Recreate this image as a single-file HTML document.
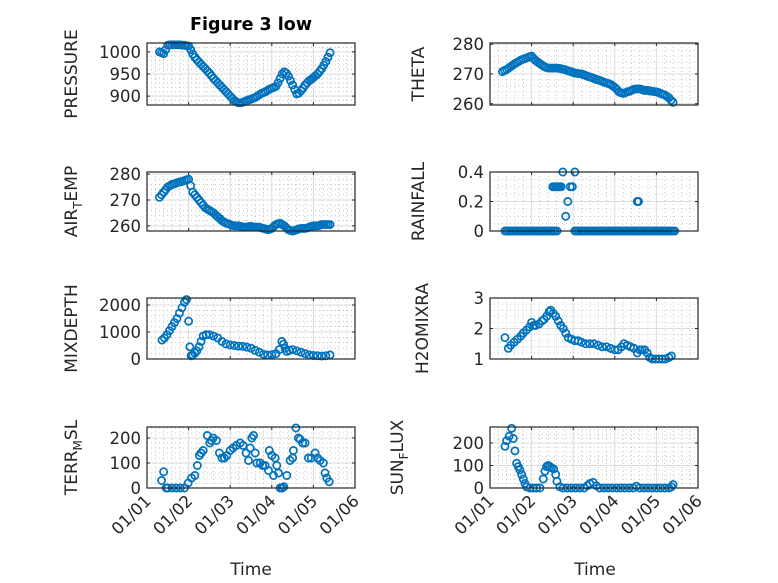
<!DOCTYPE html>
<html><head><meta charset="utf-8"><style>
html,body{margin:0;padding:0;background:#fff;}
svg{display:block;font-family:"DejaVu Sans","Liberation Sans",sans-serif;}
</style></head><body>
<svg id="fig" width="778" height="583" viewBox="0 0 778 583" xmlns="http://www.w3.org/2000/svg">
<rect width="778" height="583" fill="#fff"/>
<text x="251" y="30" text-anchor="middle" font-size="17.5" font-weight="bold" fill="#000">Figure 3 low</text>
<text x="251" y="575" text-anchor="middle" font-size="17" fill="#262626">Time</text>
<text x="595" y="575" text-anchor="middle" font-size="17" fill="#262626">Time</text>
</svg>
<script>
const TD = [0.30,0.35,0.40,0.45,0.50,0.55,0.60,0.65,0.70,0.75,0.80,0.85,0.90,0.95,1.00,1.05,1.10,1.15,1.20,1.25,1.30,1.35,1.40,1.45,1.50,1.55,1.60,1.65,1.70,1.75,1.80,1.85,1.90,1.95,2.00,2.05,2.10,2.15,2.20,2.25,2.30,2.35,2.40,2.45,2.50,2.55,2.60,2.65,2.70,2.75,2.80,2.85,2.90,2.95,3.00,3.05,3.10,3.15,3.20,3.25,3.30,3.35,3.40,3.45,3.50,3.55,3.60,3.65,3.70,3.75,3.80,3.85,3.90,3.95,4.00,4.05,4.10,4.15,4.20,4.25,4.30,4.35,4.40];
const pressureV = [1000,998,996,1005,1015,1016,1016,1016,1016,1016,1016,1015,1015,1014,1013,1005,995,988,982,977,972,967,962,957,952,946,940,935,930,925,920,915,910,905,900,895,890,887,885,885,886,888,890,892,893,895,897,900,903,906,908,910,913,916,918,920,922,930,940,950,955,952,945,935,925,915,905,907,912,918,925,930,935,938,942,946,950,956,962,970,978,988,998];
const airTempV = [271,272,273,274,275,275.5,276,276.2,276.5,276.8,277,277.2,277.5,277.8,278,275.5,273,272,271,270,269,268,267,266.5,266,265.5,265,264.2,263.5,262.8,262,261.5,261,260.8,260.5,260.2,260,260,260,259.8,259.5,259.5,259.5,259.7,259.8,259.6,259.5,259.5,259.5,259.2,259,258.8,258.5,258.7,259,259.8,260.5,260.8,261,260.5,260,259.2,258.5,258.2,258,258.2,258.5,258.8,259,259,259,259.2,259.5,259.8,260,260,260,260.2,260.5,260.5,260.5,260.5,260.5];
const thetaV = [270.8,271.2,271.5,272,272.5,273,273.5,273.9,274.3,274.7,275,275.2,275.5,275.8,276,275.2,274.5,274,273.5,273,272.5,272.2,272,272,272,272,272,271.9,271.8,271.6,271.5,271.2,271,270.8,270.5,270.3,270.2,270.1,270,269.8,269.5,269.2,269,268.8,268.5,268.2,268,267.8,267.5,267.2,267,266.8,266.5,266,265.5,264.8,264,263.7,263.5,263.7,264,264.2,264.5,264.8,265,265,265,264.8,264.5,264.5,264.5,264.3,264.2,264.1,264,263.8,263.5,263.2,263,262.5,262,261.2,260.5];
const rainT = [0.36,0.41,0.46,0.51,0.56,0.61,0.66,0.71,0.76,0.81,0.86,0.91,0.96,1.01,1.06,1.11,1.16,1.21,1.26,1.31,1.36,1.41,1.46,1.51,1.56,1.61,1.51,1.55,1.59,1.63,1.67,1.71,1.75,2.04,1.82,1.87,1.93,1.98,2.04,2.09,2.14,2.19,2.24,2.29,2.34,2.39,2.44,2.49,2.54,2.59,2.64,2.69,2.74,2.79,2.84,2.89,2.94,2.99,3.04,3.09,3.14,3.19,3.24,3.29,3.34,3.39,3.44,3.49,3.54,3.59,3.64,3.69,3.74,3.79,3.84,3.89,3.94,3.99,4.04,4.09,4.14,4.19,4.24,4.29,4.34,4.39,4.44,3.54,3.57];
const rainV = [0,0,0,0,0,0,0,0,0,0,0,0,0,0,0,0,0,0,0,0,0,0,0,0,0,0,0.3,0.3,0.3,0.3,0.3,0.3,0.4,0.4,0.1,0.2,0.3,0.3,0,0,0,0,0,0,0,0,0,0,0,0,0,0,0,0,0,0,0,0,0,0,0,0,0,0,0,0,0,0,0,0,0,0,0,0,0,0,0,0,0,0,0,0,0,0,0,0,0,0.2,0.2];
const mixT = [0.36,0.42,0.48,0.54,0.6,0.66,0.72,0.78,0.84,0.9,0.95,1.0,1.03,1.06,1.1,1.15,1.2,1.25,1.3,1.35,1.42,1.5,1.6,1.7,1.8,1.9,2.0,2.1,2.2,2.3,2.4,2.5,2.6,2.7,2.8,2.9,3.0,3.1,3.18,3.24,3.28,3.32,3.36,3.42,3.5,3.6,3.7,3.8,3.9,4.0,4.1,4.2,4.3,4.4];
const mixV = [700,780,900,1050,1200,1350,1500,1700,1900,2100,2200,1400,450,120,150,220,300,450,650,850,900,900,850,780,650,560,520,500,480,470,440,400,320,250,180,150,160,200,350,650,550,400,280,320,350,300,250,200,150,130,120,110,120,150];
const h2oT = [0.36,0.44,0.5,0.58,0.66,0.74,0.8,0.88,0.95,1.0,1.05,1.1,1.18,1.25,1.3,1.36,1.42,1.46,1.52,1.58,1.64,1.7,1.76,1.82,1.88,1.96,2.04,2.12,2.2,2.3,2.4,2.5,2.6,2.7,2.8,2.9,3.0,3.08,3.16,3.22,3.3,3.38,3.46,3.54,3.6,3.66,3.72,3.78,3.84,3.9,3.98,4.06,4.14,4.22,4.3,4.36];
const h2oV = [1.7,1.35,1.45,1.55,1.65,1.75,1.85,1.95,2.05,2.2,2.1,2.1,2.15,2.25,2.3,2.4,2.55,2.6,2.5,2.4,2.25,2.1,2.0,1.85,1.7,1.65,1.6,1.6,1.55,1.5,1.5,1.5,1.45,1.4,1.4,1.35,1.3,1.3,1.4,1.5,1.45,1.4,1.35,1.2,1.3,1.3,1.3,1.2,1.05,1.0,1.0,1.0,1.0,1.0,1.05,1.1];
const terrT = [0.35,0.4,0.46,0.5,0.6,0.7,0.8,0.9,0.99,1.07,1.15,1.21,1.26,1.3,1.35,1.45,1.51,1.55,1.59,1.67,1.74,1.8,1.86,1.92,2.0,2.07,2.15,2.24,2.31,2.38,2.44,2.48,2.52,2.56,2.6,2.64,2.72,2.78,2.84,2.92,2.94,3.0,3.04,3.08,3.12,3.16,3.2,3.25,3.29,3.36,3.44,3.5,3.52,3.58,3.64,3.68,3.74,3.8,3.88,3.95,4.04,4.1,4.16,4.24,4.28,4.32,4.38];
const terrV = [30,65,0,0,0,0,0,0,20,40,50,90,130,140,150,210,180,190,200,190,140,120,120,130,150,160,170,180,170,140,110,160,200,210,140,100,100,90,90,70,150,130,50,120,90,60,0,0,5,50,110,120,150,240,200,195,180,180,120,120,140,120,110,100,60,40,25];
const sunT = [0.36,0.4,0.46,0.52,0.56,0.6,0.64,0.68,0.72,0.76,0.8,0.84,0.88,0.96,1.04,1.12,1.2,1.28,1.32,1.36,1.4,1.44,1.48,1.53,1.58,1.61,1.68,1.76,1.86,1.96,2.06,2.16,2.26,2.34,2.4,2.48,2.56,2.64,2.74,2.84,2.94,3.04,3.14,3.24,3.34,3.44,3.52,3.6,3.7,3.8,3.9,4.0,4.1,4.2,4.3,4.36,4.4];
const sunV = [185,210,230,265,220,165,110,95,80,60,40,20,5,0,0,0,0,40,75,95,100,95,90,85,60,30,5,0,0,0,0,0,0,10,20,25,10,0,0,0,0,0,0,0,0,0,8,0,0,0,0,0,0,0,0,5,15];
const xTickLabels = ["01/01","01/02","01/03","01/04","01/05","01/06"];
const xTickVals = [0,1,2,3,4,5];

const NS="http://www.w3.org/2000/svg";
const svg=document.getElementById('fig');
function mk(tag,attrs,parent){const e=document.createElementNS(NS,tag);for(const k in attrs)e.setAttribute(k,attrs[k]);(parent||svg).appendChild(e);return e;}

const colL=[147,355], colR=[490,698];
const rows=[[43,105],[172,231],[298,359],[427,488]];

const panels=[
 {name:'pressure',col:colL,row:0,ylim:[880,1020],ticks:[900,950,1000],minor:10,t:TD,v:pressureV,label:'PRESSURE',lx:77},
 {name:'theta',col:colR,row:0,ylim:[259.6,280.4],ticks:[260,270,280],minor:2,t:TD,v:thetaV,label:'THETA',lx:424},
 {name:'air-temp',col:colL,row:1,ylim:[258,280.8],ticks:[260,270,280],minor:2,t:TD,v:airTempV,label:'AIR',sub:'T',rest:'EMP',lx:77},
 {name:'rainfall',col:colR,row:1,ylim:[0,0.4],ticks:[0,0.2,0.4],minor:0.05,t:rainT,v:rainV,label:'RAINFALL',lx:424},
 {name:'mixdepth',col:colL,row:2,ylim:[0,2260],ticks:[0,1000,2000],minor:200,t:mixT,v:mixV,label:'MIXDEPTH',lx:77},
 {name:'h2omixra',col:colR,row:2,ylim:[1,3],ticks:[1,2,3],minor:0.2,t:h2oT,v:h2oV,label:'H2OMIXRA',lx:428},
 {name:'terr-msl',col:colL,row:3,ylim:[0,244],ticks:[0,100,200],minor:20,t:terrT,v:terrV,label:'TERR',sub:'M',rest:'SL',lx:77},
 {name:'sun-flux',col:colR,row:3,ylim:[0,271],ticks:[0,100,200],minor:20,t:sunT,v:sunV,label:'SUN',sub:'F',rest:'LUX',lx:403}
];

panels.forEach(p=>{
 const x0=p.col[0],x1=p.col[1],y0=rows[p.row][0],y1=rows[p.row][1];
 const sx=t=>x0+(t-0)/(5-0)*(x1-x0);
 const sy=v=>y1-(v-p.ylim[0])/(p.ylim[1]-p.ylim[0])*(y1-y0);
 const g=mk('g',{});
 
 
 for(let t=0.2;t<5;t+=0.2){ if(Math.abs(t-Math.round(t))<1e-6)continue;
   const l=mk('line',{x1:sx(t),x2:sx(t),y1:y0,y2:y1,stroke:'#bbb','stroke-width':0.8,'stroke-dasharray':'1 3'},g);
   
   
 }
 const m0=Math.ceil(p.ylim[0]/p.minor)*p.minor;
 for(let v=m0;v<=p.ylim[1]+1e-9;v+=p.minor){
   if(p.ticks.some(tk=>Math.abs(tk-v)<1e-6))continue;
   const l=mk('line',{x1:x0,x2:x1,y1:sy(v),y2:sy(v),stroke:'#bbb','stroke-width':0.8,'stroke-dasharray':'1 3'},g);
   
   
 }
 xTickVals.forEach(t=>{
   const l=mk('line',{x1:sx(t),x2:sx(t),y1:y0,y2:y1,stroke:'#dcdcdc','stroke-width':1},g);
   
   
 });
 p.ticks.forEach(v=>{
   const l=mk('line',{x1:x0,x2:x1,y1:sy(v),y2:sy(v),stroke:'#dcdcdc','stroke-width':1},g);
   
   
   const tk=mk('path',{d:`M${x0} ${sy(v)}h3M${x1} ${sy(v)}h-3`,stroke:'#262626','stroke-width':1},g);
   
   
   const tx=mk('text',{x:x0-6,y:sy(v)+6,'text-anchor':'end','font-size':16.5,fill:'#262626'},g);
   tx.textContent=String(v);
   
   
 });
 xTickVals.forEach((t,i)=>{
   const tk=mk('path',{d:`M${sx(t)} ${y1}v-3M${sx(t)} ${y0}v3`,stroke:'#262626','stroke-width':1},g);
   
   
   if(p.row===3){
     const tx=mk('text',{x:sx(t)+5,y:y1+14,'text-anchor':'end','font-size':16.5,fill:'#262626',transform:`rotate(-45 ${sx(t)+5} ${y1+14})`},g);
     tx.textContent=xTickLabels[i];
     
     
   }
 });
 p.t.forEach((t,i)=>{
   const c=mk('circle',{cx:sx(t),cy:sy(p.v[i]),r:3.6,fill:'none',stroke:'#0072BD','stroke-width':1.7},g);
   
   
 });
 const b=mk('rect',{x:x0,y:y0,width:x1-x0,height:y1-y0,fill:'none',stroke:'#262626','stroke-width':1.2},g);
 
 
 const cy=(y0+y1)/2;
 const yl=mk('text',{x:p.lx,y:cy,'text-anchor':'middle','font-size':17,fill:'#262626',transform:`rotate(-90 ${p.lx} ${cy})`},g);
 
 
 if(p.sub){
   const a=mk('tspan',{},yl);a.textContent=p.label;
   const s=mk('tspan',{'font-size':12,dy:5},yl);s.textContent=p.sub;
   const r=mk('tspan',{dy:-5},yl);r.textContent=p.rest;
 } else yl.textContent=p.label;
});
</script>
</body></html>
